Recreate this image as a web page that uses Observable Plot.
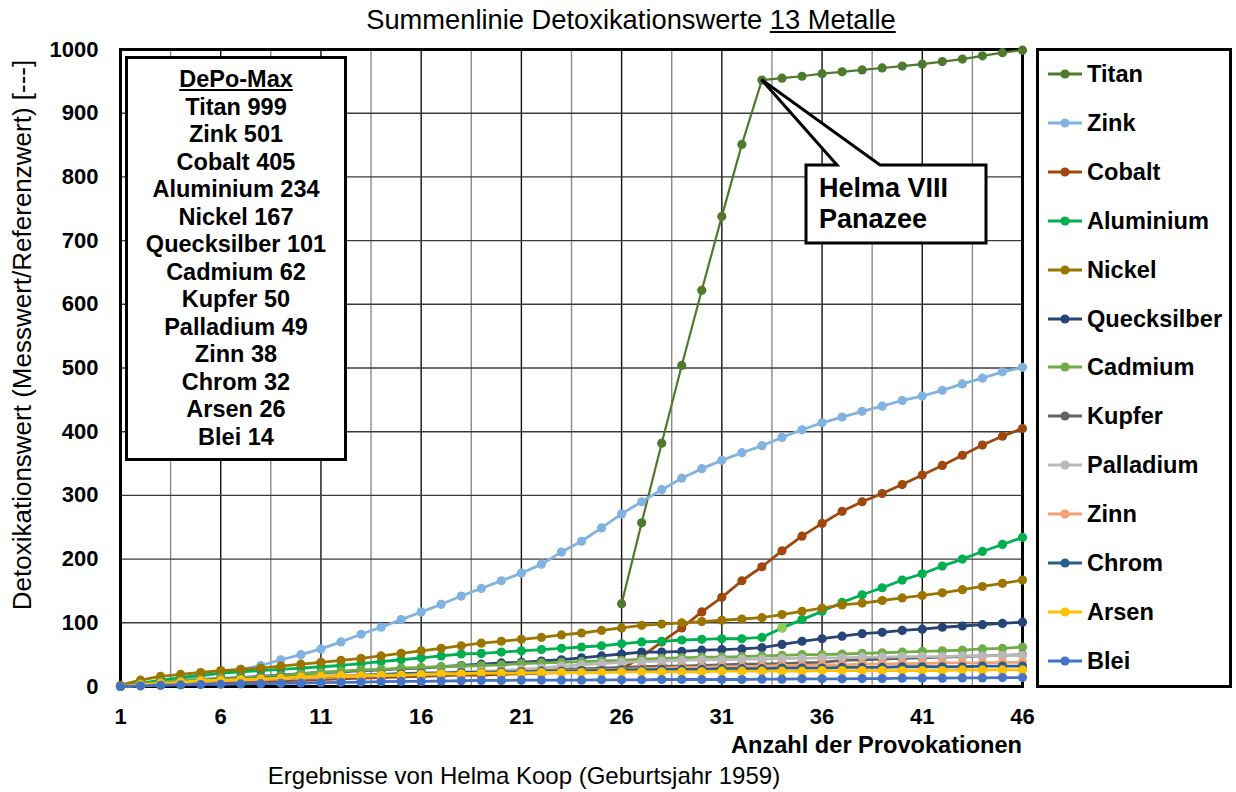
<!DOCTYPE html>
<html><head><meta charset="utf-8">
<script src="https://cdn.jsdelivr.net/npm/d3@7"></script>
<script src="https://cdn.jsdelivr.net/npm/@observablehq/plot@0.6"></script>
<style>
body{margin:0;background:#fff;font-family:"Liberation Sans",Arial,sans-serif;}
#wrap{position:relative;width:1236px;height:792px;overflow:hidden;background:#fff;}
#plotHost{position:absolute;left:0;top:0;}
.abs{position:absolute;white-space:nowrap;color:#000;}
</style></head><body><div id="wrap"><div id="plotHost"></div></div>
<script>
// ---------- data ----------
const provokationen = [1,2,3,4,5,6,7,8,9,10,11,12,13,14,15,16,17,18,19,20,21,22,23,24,25,26,27,28,29,30,31,32,33,34,35,36,37,38,39,40,41,42,43,44,45,46];
const xTicks = [1,6,11,16,21,26,31,36,41,46];
const yTicks = [0,100,200,300,400,500,600,700,800,900,1000];

const titan = [null,null,null,null,null,null,null,null,null,null,null,null,null,null,null,null,null,null,null,null,null,null,null,null,null,
  130,257,382,504,622,738,851,952,955,958,962,965,968,971,974,977,981,985,990,995,999];
const zink = [0,3,7,11,16,21,27,33,42,50, 59,70,82,93,105,117,129,142,154,166, 178,192,211,228,249,271,290,309,327,342, 355,367,378,391,403,414,423,432,440,449, 456,465,475,484,494,501];
const cobalt = [0,1,2,4,5,6,7,8,9,10, 11,12,13,14,15,16,17,18,18,19, 20,21,22,23,24,27,47,70,92,117, 140,166,188,213,236,256,275,290,303,317, 332,347,363,379,393,405];
const aluminium = [0,5,10,14,18,21,23,25,27,29, 31,33,36,39,42,45,48,51,52,54, 56,58,60,62,64,67,70,71,73,74, 75,75,77,92,105,118,132,144,155,167, 177,189,200,212,223,234];
const nickel = [2,10,16,19,22,25,27,29,32,35, 38,41,44,48,52,56,60,64,68,71, 74,77,81,84,88,92,96,98,100,102, 104,106,108,113,118,123,128,131,135,139, 143,147,152,157,162,167];
const quecksilber = [0,3,6,8,10,12,14,16,18,20, 22,23,25,26,28,29,31,33,35,37, 38,40,42,45,48,51,54,54,55,57, 58,59,61,66,71,75,79,83,85,88, 90,93,95,97,99,101];
const cadmium = [0,4,7,9,11,13,14,15,17,20, 22,24,26,27,29,30,31,32,33,34, 36,37,38,39,40,41,43,44,45,46, 46,47,48,49,50,50,51,52,53,54, 55,56,57,59,60,62];
const kupfer = [0,2,4,6,7,8,9,10,11,12, 13,14,15,16,17,18,19,20,21,22, 24,25,27,28,29,30,31,32,32,33, 34,35,35,36,37,38,41,42,43,44, 45,46,47,48,49,50];
const palladium = [0,2,4,6,8,10,11,12,13,14, 15,16,17,18,20,21,22,23,24,25, 27,29,32,34,36,38,39,40,41,42, 42,43,43,44,44,45,45,46,46,47, 47,47,48,48,49,49];
const zinn = [0,2,4,6,8,9,10,11,12,13, 14,15,16,17,18,19,20,21,22,23, 24,24,25,26,26,27,28,29,30,30, 31,31,32,33,33,34,34,35,35,36, 36,37,37,37,38,38];
const chrom = [0,3,5,7,9,11,12,13,14,15, 16,17,18,19,20,21,21,22,22,23, 23,24,24,25,25,26,26,27,27,27, 28,28,28,29,29,29,30,30,30,31, 31,31,31,32,32,32];
const arsen = [0,3,5,7,9,10,11,12,13,15, 16,17,17,18,18,19,20,20,21,21, 21,22,22,22,22,23,23,23,23,23, 24,24,24,24,24,25,25,25,25,25, 25,25,26,26,26,26];
const blei = [0,1,2,2.5,3,3.5,4,4.5,5,5.5, 6,6.5,7,7.5,8,8,8.5,9,9.5,9.5, 10,10,10,10,10.5,10.5,10.5,11,11,11, 11,11,11.5,11.5,12,12,12,12.5,12.5,13, 13,13,13.5,13.5,14,14];

const metalNames = ["Titan","Zink","Cobalt","Aluminium","Nickel","Quecksilber","Cadmium","Kupfer","Palladium","Zinn","Chrom","Arsen","Blei"];
const metalValues = [titan,zink,cobalt,aluminium,nickel,quecksilber,cadmium,kupfer,palladium,zinn,chrom,arsen,blei];
const metalColors = ["#4f7a2e","#80b2e2","#9e480e","#00b050","#9c7500","#264478","#70ad47","#636363","#b9b9b9","#f4a070","#255e91","#ffc000","#4472c4"];
const depoMax = [999,501,405,234,167,101,62,50,49,38,32,26,14];
// one Aluminium point drawn in a lighter green in the original
const highlightProvokation = [34];
const highlightColor = "#92d050";

const titleText = "Summenlinie Detoxikationswerte ";
const titleUnderlined = "13 Metalle";
const yLabel = "Detoxikationswert (Messwert/Referenzwert) [---]";
const xLabel = "Anzahl der Provokationen";
const caption = "Ergebnisse von Helma Koop (Geburtsjahr 1959)";
const calloutLines = ["Helma VIII","Panazee"];
const calloutAt = 33;

// ---------- build ----------
const rows = metalNames.flatMap((m, k) => provokationen.map((p, i) => ({metal: m, x: p, y: metalValues[k][i]})).filter(r => r.y != null));
const gridMajor = xTicks;
const gridMinor = xTicks.slice(0, -1).map(t => t + 2.5);
const gridY = yTicks.slice(1, -1);

const marks = [
  Plot.ruleX(gridMinor, {stroke: "#8a8a8a", strokeWidth: 1.4}),
  Plot.ruleX(gridMajor, {stroke: "#111", strokeWidth: 1.4}),
  Plot.ruleY(gridY, {stroke: "#3a3a3a", strokeWidth: 1.4}),
  Plot.frame({stroke: "#000", strokeWidth: 3}),
  Plot.axisX({ticks: xTicks, tickSize: 0, tickPadding: 22, tickFormat: d => String(d), label: null}),
  Plot.axisY({ticks: yTicks, tickSize: 0, tickPadding: 22, tickFormat: d => String(d), label: null})
];
metalNames.forEach((m, k) => {
  const d = rows.filter(r => r.metal === m);
  marks.push(Plot.line(d, {x: "x", y: "y", stroke: metalColors[k], strokeWidth: k === 0 ? 2.2 : 2.8}));
  marks.push(Plot.dot(d, {x: "x", y: "y", fill: metalColors[k], r: 4.6}));
  if (m === "Aluminium") {
    marks.push(Plot.dot(d.filter(r => highlightProvokation.includes(r.x)), {x: "x", y: "y", fill: highlightColor, r: 4.6}));
  }
});

const chart = Plot.plot({
  width: 1236, height: 792,
  marginLeft: 120, marginRight: 214, marginTop: 49, marginBottom: 106,
  x: {domain: [1, 46], axis: null},
  y: {domain: [0, 1000], axis: null},
  style: {fontFamily: "'Liberation Sans', Arial, sans-serif", fontSize: "22px", fontWeight: "bold", color: "#000", background: "transparent", overflow: "visible"},
  marks
});
document.getElementById("plotHost").appendChild(chart);

const wrap = document.getElementById("wrap");
function addDiv(html, css) {
  const d = document.createElement("div");
  d.className = "abs";
  d.innerHTML = html;
  Object.assign(d.style, css);
  wrap.appendChild(d);
  return d;
}

// title
addDiv(titleText + '<span style="text-decoration:underline">' + titleUnderlined + '</span>',
  {left: "0px", width: "1262px", top: "2px", textAlign: "center", fontSize: "27.3px", lineHeight: "36px"});
// caption
addDiv(caption, {left: "0px", width: "1048px", top: "761px", textAlign: "center", fontSize: "24px", lineHeight: "30px"});
// y label
addDiv(yLabel, {left: (22 - 350) + "px", top: (335 - 17) + "px", width: "700px", height: "34px", textAlign: "center",
  fontSize: "26px", lineHeight: "34px", transform: "rotate(-90deg)", transformOrigin: "50% 50%"});
// x label
addDiv(xLabel, {left: "0px", width: "1022px", top: "731px", textAlign: "right", fontSize: "23.6px", lineHeight: "28px", fontWeight: "bold"});

// DePo-Max box
const depoHtml = '<div style="text-decoration:underline">DePo-Max</div>' +
  metalNames.map((m, k) => '<div>' + m + ' ' + depoMax[k] + '</div>').join("");
addDiv(depoHtml, {left: "125px", top: "56px", width: "222px", height: "405px", boxSizing: "border-box",
  border: "3px solid #000", background: "#fff", textAlign: "center", fontWeight: "bold", fontSize: "23.5px",
  lineHeight: "27.5px", paddingTop: "7px"});

// legend box
const legendHtml = metalNames.map((m, k) =>
  '<div style="position:absolute;left:8px;top:' + (74 - 48 - 3 + k * 48.9 - 14) + 'px;height:28px;display:flex;align-items:center">' +
  '<svg width="36" height="28" style="margin-right:4px"><line x1="1" y1="14" x2="35" y2="14" stroke="' + metalColors[k] + '" stroke-width="2.8"/>' +
  '<circle cx="18" cy="14" r="4.6" fill="' + metalColors[k] + '"/></svg>' +
  '<span style="font-weight:bold;font-size:23.6px;line-height:28px">' + m + '</span></div>').join("");
addDiv(legendHtml, {left: "1036px", top: "48px", width: "196px", height: "640px", boxSizing: "border-box",
  border: "3px solid #000", background: "#fff"});

// callout with wedge pointing at Titan data point
const sx = chart.scale("x"), sy = chart.scale("y");
const tipX = sx.apply(calloutAt), tipY = sy.apply(titan[calloutAt - 1]);
const bx0 = 806, by0 = 165, bx1 = 986, by1 = 243;
const ns = "http://www.w3.org/2000/svg";
const osvg = document.createElementNS(ns, "svg");
osvg.setAttribute("width", 1236); osvg.setAttribute("height", 792);
osvg.style.position = "absolute"; osvg.style.left = "0"; osvg.style.top = "0";
const path = document.createElementNS(ns, "path");
path.setAttribute("d", `M${bx0},${by0} L837,${by0} L${tipX},${tipY} L880,${by0} L${bx1},${by0} L${bx1},${by1} L${bx0},${by1} Z`);
path.setAttribute("fill", "#fff"); path.setAttribute("stroke", "#000"); path.setAttribute("stroke-width", "3");
path.setAttribute("stroke-linejoin", "miter");
osvg.appendChild(path);
wrap.appendChild(osvg);
addDiv(calloutLines.map(t => '<div>' + t + '</div>').join(""), {left: "819px", top: "173px", fontWeight: "bold",
  fontSize: "27px", lineHeight: "31px"});
</script></body></html>
